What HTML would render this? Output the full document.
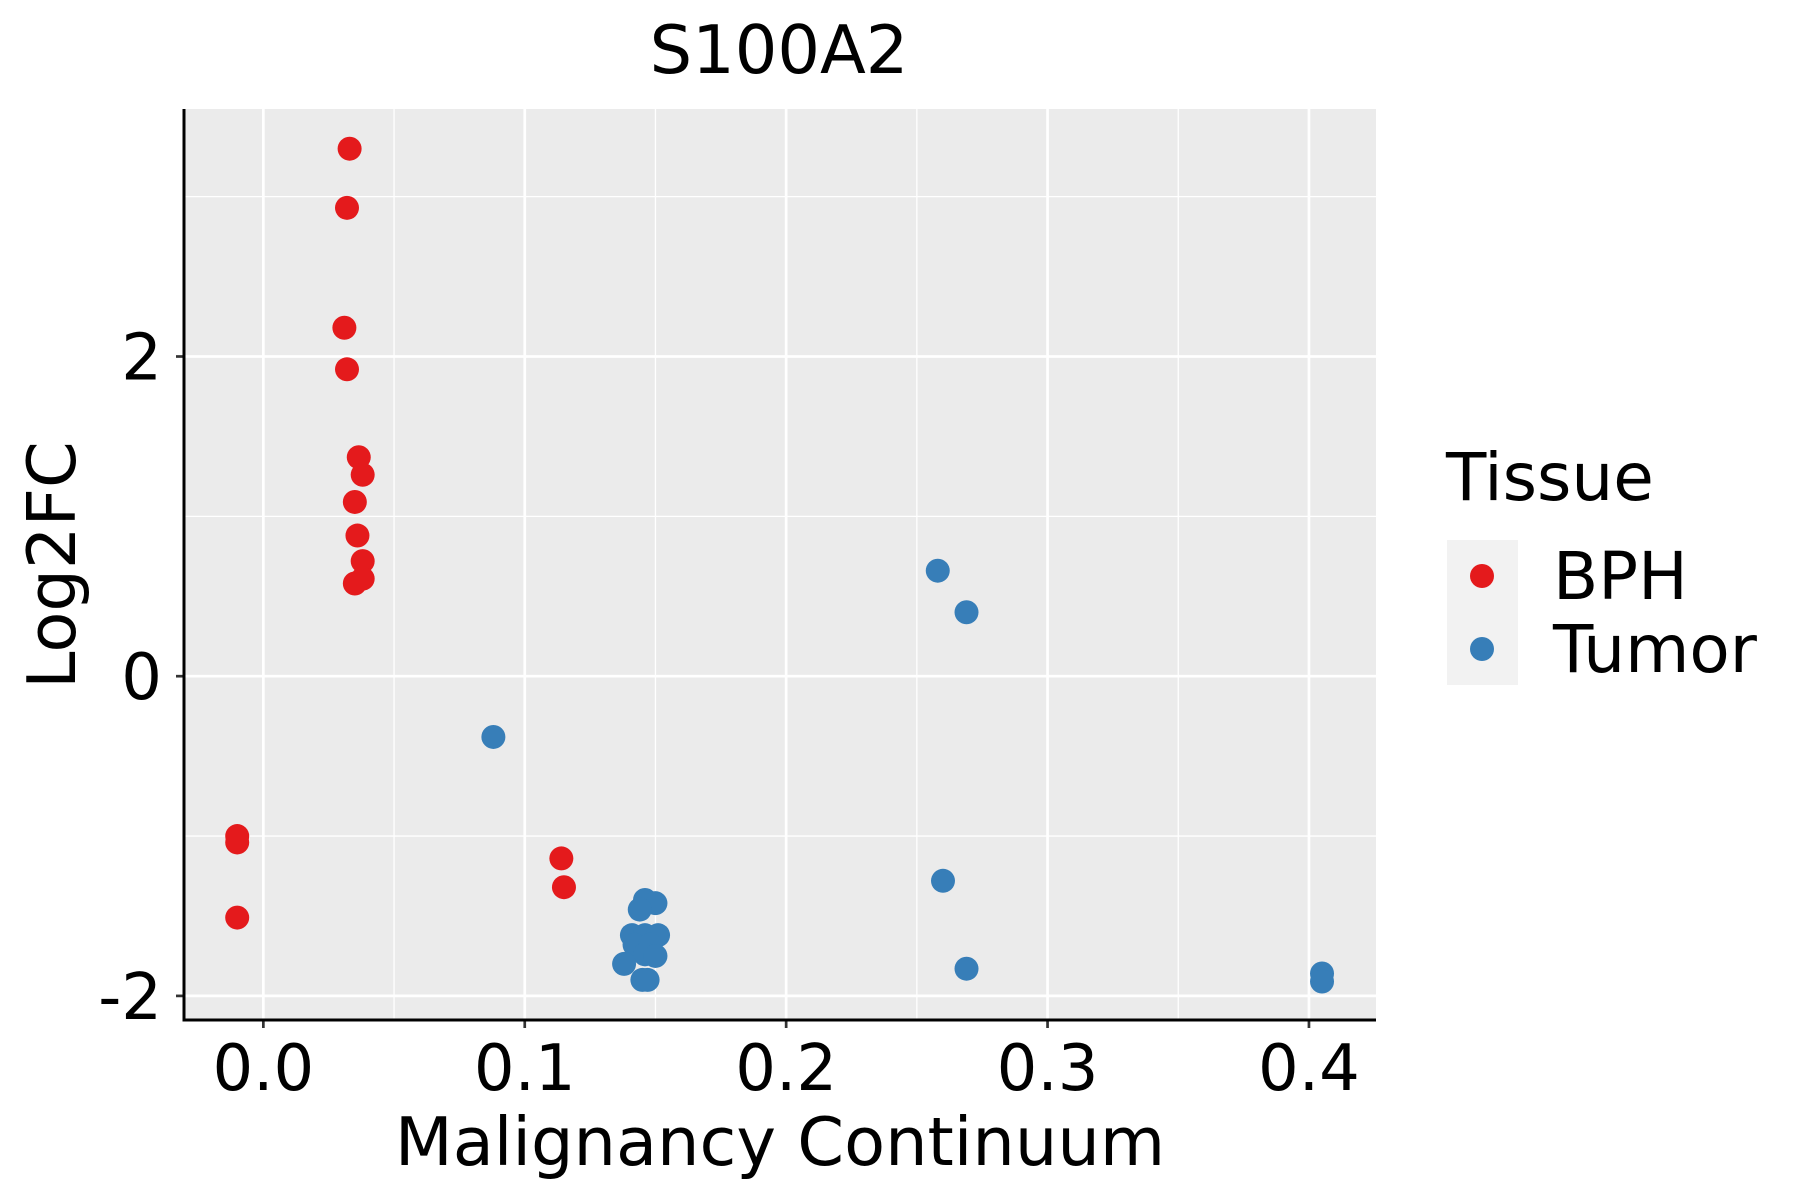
<!DOCTYPE html>
<html><head><meta charset="utf-8"><style>
html,body{margin:0;padding:0;background:#fff}
svg{display:block;font-family:"DejaVu Sans","Liberation Sans",sans-serif}
</style></head><body>
<svg id="chart" width="1800" height="1200" viewBox="0 0 1800 1200">
<text x="779" y="73" font-size="67" text-anchor="middle">S100A2</text>
<rect x="184" y="109" width="1192" height="911" fill="#ebebeb"/>
<g id="grid"></g>
<g id="pts"></g>
<g id="axes"></g>
<text x="780" y="1165" font-size="67" text-anchor="middle">Malignancy Continuum</text>
<text transform="translate(75,565) rotate(-90)" font-size="67" text-anchor="middle">Log2FC</text>
<g>
<text x="1446" y="500" font-size="66">Tissue</text>
<rect x="1447" y="540" width="71" height="145" fill="#f2f2f2"/>
<circle cx="1482" cy="576" r="12" fill="#e41a1c"/>
<circle cx="1482" cy="649" r="12" fill="#377eb8"/>
<text x="1553" y="599" font-size="66">BPH</text>
<text x="1553" y="672" font-size="66">Tumor</text>
</g>
</svg>
<script>
const bphX=[0.033,0.032,0.031,0.032,0.0365,0.038,0.035,0.036,0.038,0.038,0.035,-0.010,-0.010,-0.010,0.114,0.115];
const bphY=[3.30,2.93,2.18,1.92,1.37,1.26,1.09,0.88,0.72,0.61,0.58,-1.00,-1.04,-1.51,-1.14,-1.32];
const tumorX=[0.258,0.269,0.088,0.260,0.269,0.405,0.405,0.146,0.150,0.144,0.141,0.146,0.151,0.142,0.148,0.146,0.150,0.138,0.145,0.147];
const tumorY=[0.66,0.40,-0.38,-1.28,-1.83,-1.86,-1.91,-1.40,-1.42,-1.46,-1.62,-1.62,-1.62,-1.68,-1.68,-1.74,-1.75,-1.80,-1.90,-1.90];
const xTicks=[0,0.1,0.2,0.3,0.4];
const xTickLabels=["0.0","0.1","0.2","0.3","0.4"];
const yTicks=[-2,0,2];
const yTickLabels=["-2","0","2"];
const xMinor=[0.05,0.15,0.25,0.35];
const yMinor=[-1,1,3];

const NS="http://www.w3.org/2000/svg";
const PL=184,PR=1376,PT=109,PB=1020;
const X0=263.35,XS=2614,Y0=676.2,YS=159.85;
const sx=v=>X0+v*XS, sy=v=>Y0-v*YS;
function mk(tag,attrs,parent){const e=document.createElementNS(NS,tag);for(const k in attrs)e.setAttribute(k,attrs[k]);parent.appendChild(e);return e;}
const grid=document.getElementById('grid'),pts=document.getElementById('pts'),axes=document.getElementById('axes');
xMinor.forEach(v=>{const e=mk('line',{x1:sx(v),x2:sx(v),y1:PT,y2:PB,stroke:'#fff','stroke-width':1.3},grid);

});
yMinor.forEach(v=>{const e=mk('line',{x1:PL,x2:PR,y1:sy(v),y2:sy(v),stroke:'#fff','stroke-width':1.3},grid);

});
xTicks.forEach((v,i)=>{const e=mk('line',{x1:sx(v),x2:sx(v),y1:PT,y2:PB,stroke:'#fff','stroke-width':2.7},grid);


const t=mk('line',{x1:sx(v),x2:sx(v),y1:PB,y2:PB+8,stroke:'#333','stroke-width':2.7},axes);


const l=mk('text',{x:sx(v),y:1090,'font-size':64,'text-anchor':'middle'},axes);l.textContent=xTickLabels[i];

});
yTicks.forEach((v,i)=>{const e=mk('line',{x1:PL,x2:PR,y1:sy(v),y2:sy(v),stroke:'#fff','stroke-width':2.7},grid);


const t=mk('line',{x1:PL-8,x2:PL,y1:sy(v),y2:sy(v),stroke:'#333','stroke-width':2.7},axes);


const l=mk('text',{x:162,y:sy(v)+23,'font-size':64,'text-anchor':'end'},axes);l.textContent=yTickLabels[i];

});
const ax1=mk('line',{x1:PL,x2:PL,y1:PT,y2:PB+1.5,stroke:'#000','stroke-width':3},axes);


const ax2=mk('line',{x1:PL-1.5,x2:PR,y1:PB,y2:PB,stroke:'#000','stroke-width':3},axes);


bphX.forEach((v,i)=>{const c=mk('circle',{cx:sx(v),cy:sy(bphY[i]),r:12,fill:'#e41a1c'},pts);

});
tumorX.forEach((v,i)=>{const c=mk('circle',{cx:sx(v),cy:sy(tumorY[i]),r:12,fill:'#377eb8'},pts);

});
</script>
</body></html>
